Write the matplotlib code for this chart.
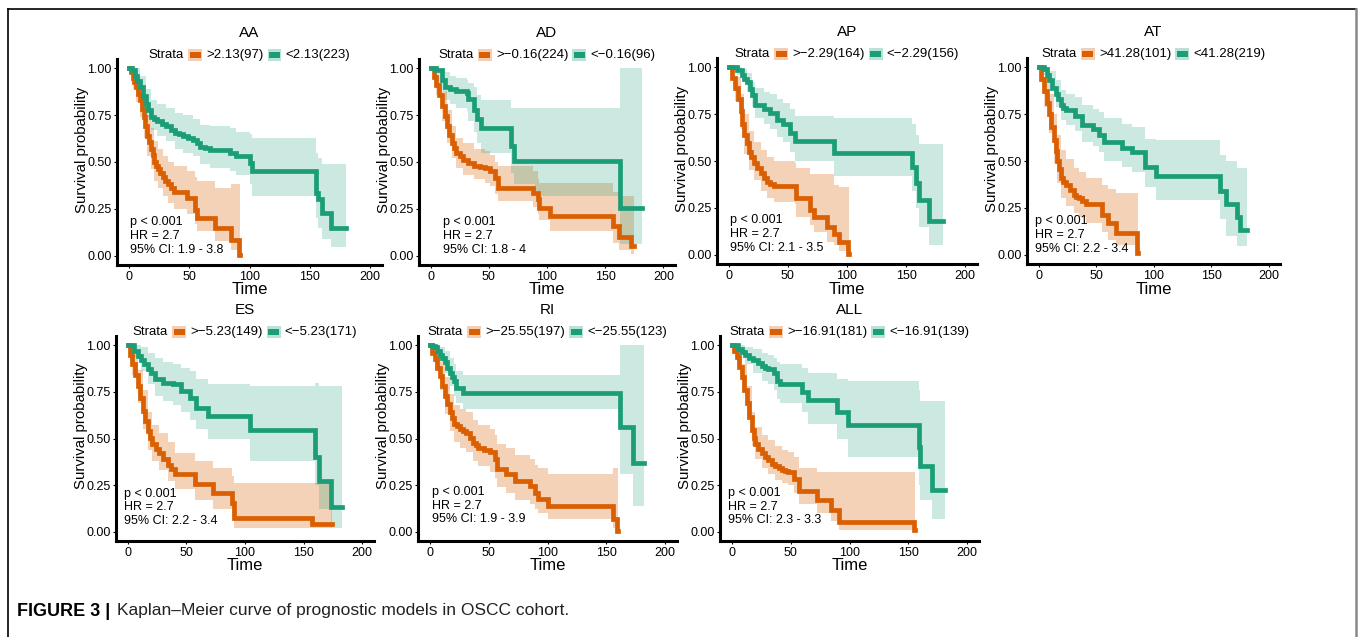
import matplotlib
matplotlib.use('Agg')
import matplotlib.pyplot as plt
from matplotlib.offsetbox import TextArea, DrawingArea, HPacker, AnchoredOffsetbox
from matplotlib.patches import Rectangle
from matplotlib.lines import Line2D

plt.rcParams['font.family'] = ['Liberation Sans', 'DejaVu Sans']

# ---- data ----
titles = ['AA', 'AD', 'AP', 'AT', 'ES', 'RI', 'ALL']
hi_labels = ['>2.13(97)', '>\u22120.16(224)', '>\u22122.29(164)', '>41.28(101)',
             '>\u22125.23(149)', '>\u221225.55(197)', '>\u221216.91(181)']
lo_labels = ['<2.13(223)', '<\u22120.16(96)', '<\u22122.29(156)', '<41.28(219)',
             '<\u22125.23(171)', '<\u221225.55(123)', '<\u221216.91(139)']
ci_text = ['1.9 - 3.8', '1.8 - 4', '2.1 - 3.5', '2.2 - 3.4', '2.2 - 3.4', '1.9 - 3.9', '2.3 - 3.3']
p_text = 'p < 0.001'
hr_text = 'HR = 2.7'

# AA  (curve: *_t/*_s, confidence band: *_bt/*_lo/*_up)
aa_hi_t = [0, 1.5, 3, 4.5, 6, 7.5, 9, 10.5, 12, 13.5, 15, 16.5, 18, 19.5, 21, 22.5, 24, 26, 28, 30, 32, 34.5, 37, 48, 55, 56.5, 71, 85, 91, 92]
aa_hi_s = [1.0, 0.98, 0.95, 0.925, 0.90, 0.865, 0.83, 0.785, 0.74, 0.69, 0.64, 0.605, 0.57, 0.535, 0.50, 0.48, 0.46, 0.44, 0.42, 0.40, 0.38, 0.36, 0.34, 0.31, 0.245, 0.20, 0.148, 0.085, 0.005, 0.005]
aa_hi_bt = [0, 3, 6, 9, 12, 15, 18, 21, 24, 28, 32, 37, 48, 55, 56.5, 71, 85, 91, 92]
aa_hi_lo = [1.0, 0.89, 0.82, 0.74, 0.63, 0.53, 0.46, 0.40, 0.36, 0.32, 0.28, 0.25, 0.22, 0.17, 0.13, 0.08, 0.03, 0.0, 0.0]
aa_hi_up = [1.0, 0.99, 0.96, 0.91, 0.84, 0.75, 0.68, 0.61, 0.57, 0.53, 0.50, 0.48, 0.45, 0.42, 0.40, 0.36, 0.38, 0.38, 0.38]
aa_lo_t = [0, 2.5, 5, 7, 9, 11.5, 14, 16, 18, 20.5, 23, 27, 31, 34.5, 38, 41.5, 45, 49, 53, 56, 59, 63, 67, 84, 89, 100, 102, 155, 157, 160, 168, 180]
aa_lo_s = [1.0, 0.99, 0.96, 0.93, 0.90, 0.855, 0.81, 0.775, 0.74, 0.73, 0.72, 0.705, 0.69, 0.67, 0.655, 0.647, 0.64, 0.63, 0.62, 0.60, 0.58, 0.573, 0.566, 0.548, 0.53, 0.495, 0.45, 0.335, 0.30, 0.23, 0.148, 0.148]
aa_lo_bt = [0, 5, 9, 14, 18, 23, 31, 38, 45, 53, 59, 67, 84, 89, 100, 102, 155, 157, 160, 168, 180]
aa_lo_lo = [1.0, 0.91, 0.84, 0.74, 0.67, 0.64, 0.61, 0.57, 0.55, 0.53, 0.49, 0.47, 0.45, 0.43, 0.38, 0.32, 0.20, 0.15, 0.09, 0.045, 0.045]
aa_lo_up = [1.0, 1.0, 0.96, 0.89, 0.83, 0.81, 0.79, 0.76, 0.75, 0.73, 0.70, 0.69, 0.68, 0.66, 0.65, 0.63, 0.55, 0.52, 0.49, 0.49, 0.49]

# AD
ad_hi_t = [0, 2.5, 5, 7, 9.5, 12, 14, 16, 18, 20, 22, 25, 28, 32, 37, 42, 47, 51, 55, 58, 88, 92, 93, 103, 157, 162, 172, 175]
ad_hi_s = [1.0, 0.955, 0.91, 0.86, 0.80, 0.745, 0.69, 0.645, 0.60, 0.575, 0.55, 0.53, 0.51, 0.495, 0.48, 0.475, 0.47, 0.45, 0.416, 0.36, 0.336, 0.30, 0.255, 0.21, 0.157, 0.10, 0.05, 0.05]
ad_hi_bt = [0, 5, 9.5, 14, 18, 22, 28, 37, 47, 51, 55, 58, 88, 92, 93, 103, 157, 162, 172, 175]
ad_hi_lo = [1.0, 0.86, 0.72, 0.60, 0.52, 0.47, 0.43, 0.41, 0.39, 0.37, 0.33, 0.29, 0.26, 0.22, 0.19, 0.13, 0.07, 0.03, 0.01, 0.01]
ad_hi_up = [1.0, 0.96, 0.88, 0.78, 0.69, 0.63, 0.60, 0.57, 0.56, 0.54, 0.50, 0.48, 0.45, 0.41, 0.39, 0.39, 0.34, 0.32, 0.32, 0.32]
ad_lo_t = [0, 5, 9.5, 12, 17, 22, 31, 32, 37, 40, 43, 68, 69, 72, 90, 163, 182]
ad_lo_s = [1.0, 0.99, 0.94, 0.90, 0.89, 0.88, 0.87, 0.835, 0.78, 0.73, 0.684, 0.684, 0.586, 0.505, 0.505, 0.255, 0.255]
ad_lo_bt = [0, 5, 9.5, 12, 17, 22, 31, 32, 37, 40, 43, 68, 69, 72, 90, 163, 182]
ad_lo_lo = [1.0, 0.96, 0.88, 0.83, 0.81, 0.79, 0.77, 0.72, 0.66, 0.60, 0.55, 0.55, 0.44, 0.38, 0.32, 0.06, 0.06]
ad_lo_up = [1.0, 1.0, 1.0, 0.98, 0.96, 0.95, 0.94, 0.92, 0.90, 0.86, 0.83, 0.83, 0.79, 0.79, 0.79, 1.0, 1.0]

# AP
ap_hi_t = [0, 2.8, 5.6, 7.8, 10, 11.4, 12.7, 15, 17, 19, 21, 24, 27, 29.5, 32, 35, 38, 56, 57, 69, 72, 83, 89, 93, 101, 102]
ap_hi_s = [1.0, 0.945, 0.89, 0.83, 0.765, 0.70, 0.64, 0.595, 0.55, 0.52, 0.49, 0.46, 0.435, 0.41, 0.39, 0.375, 0.365, 0.365, 0.30, 0.24, 0.20, 0.145, 0.11, 0.065, 0.005, 0.005]
ap_hi_bt = [0, 5.6, 10, 12.7, 17, 21, 27, 32, 38, 56, 57, 69, 72, 83, 89, 93, 101, 102]
ap_hi_lo = [1.0, 0.82, 0.67, 0.54, 0.45, 0.40, 0.34, 0.30, 0.28, 0.27, 0.20, 0.16, 0.12, 0.07, 0.05, 0.02, 0.0, 0.0]
ap_hi_up = [1.0, 0.95, 0.86, 0.75, 0.66, 0.60, 0.56, 0.52, 0.50, 0.49, 0.46, 0.43, 0.43, 0.43, 0.37, 0.36, 0.36, 0.36]
ap_lo_t = [0, 7, 11, 13, 15.5, 18, 20, 22.5, 30, 35, 41, 46, 52, 56, 89, 155, 158, 160.5, 169, 181]
ap_lo_s = [1.0, 0.985, 0.96, 0.94, 0.92, 0.885, 0.85, 0.80, 0.78, 0.755, 0.72, 0.70, 0.65, 0.605, 0.543, 0.47, 0.385, 0.29, 0.18, 0.18]
ap_lo_bt = [0, 7, 11, 15.5, 20, 22.5, 30, 35, 41, 46, 52, 56, 89, 155, 158, 160.5, 169, 181]
ap_lo_lo = [1.0, 0.96, 0.93, 0.87, 0.79, 0.73, 0.70, 0.67, 0.63, 0.60, 0.55, 0.50, 0.42, 0.34, 0.25, 0.15, 0.05, 0.05]
ap_lo_up = [1.0, 1.0, 0.99, 0.97, 0.92, 0.89, 0.87, 0.86, 0.83, 0.81, 0.78, 0.74, 0.73, 0.70, 0.64, 0.59, 0.59, 0.59]

# AT
at_hi_t = [0, 2.5, 5, 7, 9, 11.3, 13.6, 15, 16.5, 18, 19.4, 21.7, 24, 27.5, 31, 33, 35, 38, 41, 55.5, 60, 67, 86, 86.5]
at_hi_s = [1.0, 0.94, 0.875, 0.81, 0.75, 0.68, 0.61, 0.555, 0.50, 0.455, 0.41, 0.39, 0.37, 0.345, 0.32, 0.31, 0.30, 0.285, 0.27, 0.21, 0.17, 0.116, 0.01, 0.01]
at_hi_bt = [0, 5, 9, 13.6, 16.5, 19.4, 24, 31, 35, 41, 55.5, 60, 67, 86, 86.5]
at_hi_lo = [1.0, 0.79, 0.65, 0.49, 0.38, 0.30, 0.26, 0.22, 0.20, 0.17, 0.12, 0.08, 0.05, 0.0, 0.0]
at_hi_up = [1.0, 0.95, 0.86, 0.75, 0.64, 0.56, 0.51, 0.46, 0.44, 0.41, 0.37, 0.35, 0.33, 0.33, 0.33]
at_lo_t = [0, 5, 7, 9, 12, 15, 17, 19.4, 21.7, 24, 32, 38, 47, 52.6, 57, 73, 81.5, 93, 102, 158, 163, 173, 175, 181]
at_lo_s = [1.0, 0.99, 0.96, 0.93, 0.89, 0.857, 0.83, 0.80, 0.785, 0.77, 0.74, 0.69, 0.67, 0.64, 0.60, 0.57, 0.55, 0.47, 0.42, 0.34, 0.27, 0.20, 0.134, 0.134]
at_lo_bt = [0, 5, 9, 15, 19.4, 24, 32, 38, 47, 52.6, 57, 73, 81.5, 93, 102, 158, 163, 173, 175, 181]
at_lo_lo = [1.0, 0.96, 0.88, 0.79, 0.72, 0.69, 0.66, 0.60, 0.58, 0.55, 0.50, 0.47, 0.44, 0.36, 0.29, 0.19, 0.10, 0.045, 0.045, 0.045]
at_lo_up = [1.0, 1.0, 0.98, 0.93, 0.88, 0.86, 0.84, 0.80, 0.78, 0.76, 0.73, 0.70, 0.68, 0.62, 0.61, 0.53, 0.50, 0.46, 0.46, 0.46]

# ES
es_hi_t = [0, 2, 4, 6.3, 8.6, 10.8, 13, 15, 17, 19, 21, 24, 27, 30.5, 34, 37, 40, 57, 73, 88.6, 91, 157, 174]
es_hi_s = [1.0, 0.95, 0.90, 0.84, 0.78, 0.715, 0.65, 0.595, 0.54, 0.505, 0.47, 0.445, 0.42, 0.39, 0.36, 0.335, 0.31, 0.255, 0.21, 0.156, 0.075, 0.04, 0.04]
es_hi_bt = [0, 4, 8.6, 13, 17, 21, 27, 34, 40, 57, 73, 88.6, 91, 157, 174]
es_hi_lo = [1.0, 0.84, 0.69, 0.55, 0.44, 0.38, 0.33, 0.27, 0.23, 0.17, 0.12, 0.08, 0.02, 0.02, 0.02]
es_hi_up = [1.0, 0.95, 0.87, 0.76, 0.64, 0.57, 0.53, 0.48, 0.42, 0.38, 0.34, 0.30, 0.26, 0.26, 0.26]
es_lo_t = [0, 5.7, 8.5, 11.4, 14, 17, 20, 23, 30, 38.6, 45.7, 52.9, 58.6, 68.6, 104, 160, 163, 173, 183]
es_lo_s = [1.0, 0.97, 0.945, 0.92, 0.90, 0.875, 0.85, 0.82, 0.80, 0.79, 0.755, 0.72, 0.665, 0.62, 0.545, 0.40, 0.27, 0.13, 0.13]
es_lo_bt = [0, 5.7, 11.4, 17, 23, 30, 38.6, 45.7, 52.9, 58.6, 68.6, 104, 160, 163, 173, 183]
es_lo_lo = [1.0, 0.94, 0.86, 0.79, 0.73, 0.70, 0.68, 0.64, 0.60, 0.55, 0.50, 0.38, 0.25, 0.12, 0.02, 0.02]
es_lo_up = [1.0, 1.0, 0.99, 0.96, 0.93, 0.91, 0.90, 0.88, 0.86, 0.82, 0.79, 0.78, 0.80, 0.78, 0.78, 0.78]

# RI
ri_hi_t = [0, 2, 4.3, 6.4, 8.5, 10.6, 12.8, 15, 17, 19, 21, 23, 25.5, 28, 31, 34, 37, 39, 41, 46, 51, 55, 57, 65, 72, 85, 89, 92, 100.7, 156, 159, 160]
ri_hi_s = [1.0, 0.96, 0.925, 0.88, 0.835, 0.78, 0.73, 0.685, 0.64, 0.61, 0.577, 0.565, 0.55, 0.54, 0.53, 0.505, 0.477, 0.465, 0.45, 0.44, 0.425, 0.39, 0.335, 0.31, 0.27, 0.246, 0.21, 0.175, 0.14, 0.068, 0.005, 0.005]
ri_hi_bt = [0, 4.3, 8.5, 12.8, 17, 21, 25.5, 31, 37, 41, 51, 55, 57, 65, 72, 85, 89, 92, 100.7, 156, 159, 160]
ri_hi_lo = [1.0, 0.88, 0.76, 0.63, 0.54, 0.48, 0.45, 0.43, 0.38, 0.35, 0.32, 0.29, 0.24, 0.21, 0.17, 0.15, 0.12, 0.10, 0.07, 0.02, 0.0, 0.0]
ri_hi_up = [1.0, 0.97, 0.91, 0.83, 0.74, 0.68, 0.66, 0.64, 0.60, 0.57, 0.55, 0.52, 0.47, 0.45, 0.41, 0.39, 0.36, 0.34, 0.31, 0.34, 0.34, 0.34]
ri_lo_t = [0, 2, 4.3, 6.4, 8.5, 10.6, 12.8, 15, 17, 19, 21, 22.7, 28, 161.7, 173, 182]
ri_lo_s = [1.0, 0.995, 0.99, 0.97, 0.95, 0.93, 0.91, 0.88, 0.85, 0.83, 0.81, 0.77, 0.746, 0.56, 0.37, 0.37]
ri_lo_bt = [0, 4.3, 8.5, 12.8, 17, 21, 22.7, 28, 161.7, 173, 182]
ri_lo_lo = [1.0, 0.96, 0.91, 0.85, 0.78, 0.73, 0.69, 0.66, 0.31, 0.14, 0.14]
ri_lo_up = [1.0, 1.0, 0.99, 0.97, 0.93, 0.90, 0.86, 0.84, 1.0, 1.0, 1.0]

# ALL
all_hi_t = [0, 2, 4.3, 6.4, 8.5, 10.6, 12.8, 15, 17, 18.5, 19.9, 22.5, 25.5, 28, 31, 34, 37, 40, 42.6, 45, 48, 52.5, 56.7, 72, 84, 90.8, 154.6, 155.5]
all_hi_s = [1.0, 0.97, 0.94, 0.885, 0.83, 0.76, 0.69, 0.615, 0.545, 0.505, 0.47, 0.445, 0.42, 0.40, 0.385, 0.365, 0.35, 0.34, 0.33, 0.325, 0.32, 0.285, 0.22, 0.17, 0.116, 0.054, 0.01, 0.01]
all_hi_bt = [0, 4.3, 8.5, 12.8, 17, 19.9, 25.5, 31, 37, 42.6, 48, 52.5, 56.7, 72, 84, 90.8, 154.6, 155.5]
all_hi_lo = [1.0, 0.90, 0.76, 0.61, 0.46, 0.39, 0.34, 0.31, 0.28, 0.26, 0.25, 0.21, 0.15, 0.10, 0.06, 0.01, 0.0, 0.0]
all_hi_up = [1.0, 0.98, 0.90, 0.78, 0.64, 0.56, 0.52, 0.49, 0.46, 0.44, 0.43, 0.40, 0.34, 0.32, 0.32, 0.32, 0.32, 0.32]
all_lo_t = [0, 5.7, 8.5, 11.3, 15, 18.4, 22, 25.5, 28, 31, 35.5, 38, 41, 59.6, 65, 89, 99, 159, 160, 170, 181]
all_lo_s = [1.0, 0.98, 0.965, 0.946, 0.93, 0.92, 0.905, 0.89, 0.88, 0.875, 0.85, 0.81, 0.795, 0.75, 0.705, 0.64, 0.57, 0.455, 0.35, 0.223, 0.223]
all_lo_bt = [0, 5.7, 11.3, 18.4, 25.5, 31, 35.5, 38, 41, 59.6, 65, 89, 99, 159, 160, 170, 181]
all_lo_lo = [1.0, 0.95, 0.90, 0.85, 0.81, 0.79, 0.76, 0.71, 0.69, 0.64, 0.58, 0.50, 0.40, 0.25, 0.17, 0.07, 0.07]
all_lo_up = [1.0, 1.0, 0.99, 0.98, 0.96, 0.95, 0.93, 0.91, 0.90, 0.88, 0.85, 0.82, 0.81, 0.76, 0.70, 0.70, 0.70]

groups = [
    ((aa_hi_t, aa_hi_s, aa_hi_bt, aa_hi_lo, aa_hi_up), (aa_lo_t, aa_lo_s, aa_lo_bt, aa_lo_lo, aa_lo_up)),
    ((ad_hi_t, ad_hi_s, ad_hi_bt, ad_hi_lo, ad_hi_up), (ad_lo_t, ad_lo_s, ad_lo_bt, ad_lo_lo, ad_lo_up)),
    ((ap_hi_t, ap_hi_s, ap_hi_bt, ap_hi_lo, ap_hi_up), (ap_lo_t, ap_lo_s, ap_lo_bt, ap_lo_lo, ap_lo_up)),
    ((at_hi_t, at_hi_s, at_hi_bt, at_hi_lo, at_hi_up), (at_lo_t, at_lo_s, at_lo_bt, at_lo_lo, at_lo_up)),
    ((es_hi_t, es_hi_s, es_hi_bt, es_hi_lo, es_hi_up), (es_lo_t, es_lo_s, es_lo_bt, es_lo_lo, es_lo_up)),
    ((ri_hi_t, ri_hi_s, ri_hi_bt, ri_hi_lo, ri_hi_up), (ri_lo_t, ri_lo_s, ri_lo_bt, ri_lo_lo, ri_lo_up)),
    ((all_hi_t, all_hi_s, all_hi_bt, all_hi_lo, all_hi_up), (all_lo_t, all_lo_s, all_lo_bt, all_lo_lo, all_lo_up)),
]

# ---- layout (pixels: left, right, top, bottom) ----
W, H = 1358, 637
boxes = [(117, 382, 59, 265), (419, 675, 59, 265), (717, 977, 58, 264), (1027, 1280, 58, 264),
         (116, 374, 336, 541), (418, 677, 336, 541), (720, 979, 336, 541)]
ann_x = [0.5, 11, 1, -3, -3, 2, -3]
ann_y = [0.105, 0.105, 0.11, 0.105, 0.13, 0.14, 0.135]

ORANGE = '#D95F02'
GREEN = '#1B9E77'

fig = plt.figure(figsize=(W / 100, H / 100), dpi=100)


def key(color):
    da = DrawingArea(10, 8, 0, 0)
    da.add_artist(Rectangle((0, 0), 10, 8, fc=color, alpha=0.3, lw=0))
    da.add_artist(Rectangle((1, 1.5), 8, 5, fc=color, lw=0))
    return da


for i, (l, r, t, b) in enumerate(boxes):
    ax = fig.add_axes([l / W, 1 - b / H, (r - l) / W, (b - t) / H])
    hi, lo = groups[i]
    ax.fill_between(hi[2], hi[3], hi[4], step='post', color=ORANGE, alpha=0.28, lw=0)
    ax.fill_between(lo[2], lo[3], lo[4], step='post', color=GREEN, alpha=0.22, lw=0)
    ax.step(hi[0], hi[1], where='post', color=ORANGE, lw=3.4, solid_joinstyle='miter')
    ax.step(lo[0], lo[1], where='post', color=GREEN, lw=3.4, solid_joinstyle='miter')

    ax.set_xlim(-10, 210)
    ax.set_ylim(-0.05, 1.05)
    ax.set_xticks([0, 50, 100, 150, 200])
    ax.set_yticks([0, 0.25, 0.5, 0.75, 1.0])
    ax.set_yticklabels(['0.00', '0.25', '0.50', '0.75', '1.00'])
    ax.tick_params(labelsize=9, length=2.5, width=0.8, pad=1.5, colors='black')
    for s in ['top', 'right']:
        ax.spines[s].set_visible(False)
    for s in ['left', 'bottom']:
        ax.spines[s].set_linewidth(2.2)

    hpx = b - t
    wpx = r - l
    ax.text(0.5, 1 + 26 / hpx, titles[i], transform=ax.transAxes, ha='center', va='center', fontsize=11)
    ax.text(0.5, -25 / hpx, 'Time', transform=ax.transAxes, ha='center', va='center', fontsize=12)
    ax.text(-35 / wpx, 0.56, 'Survival probability', transform=ax.transAxes, rotation=90,
            ha='center', va='center', fontsize=10.8)
    ax.text(ann_x[i], ann_y[i], p_text + '\n' + hr_text + '\n95% CI: ' + ci_text[i],
            ha='left', va='center', fontsize=9, linespacing=1.2)

    tp = dict(fontsize=9.5)
    row = HPacker(children=[TextArea('Strata', textprops=tp), key(ORANGE), TextArea(hi_labels[i], textprops=tp),
                            key(GREEN), TextArea(lo_labels[i], textprops=tp)],
                  sep=3, align='center', pad=0)
    ab = AnchoredOffsetbox(loc='center', child=row, bbox_to_anchor=(0.5, 1 + 4 / hpx),
                           bbox_transform=ax.transAxes, frameon=False, pad=0, borderpad=0)
    ax.add_artist(ab)

# caption
cap = HPacker(children=[TextArea('FIGURE 3 |', textprops=dict(fontsize=13, weight='bold')),
                        TextArea('Kaplan\u2013Meier curve of prognostic models in OSCC cohort.',
                                 textprops=dict(fontsize=12.5, color='#222222'))],
              sep=5, align='baseline', pad=0)
fig.add_artist(AnchoredOffsetbox(loc='center left', child=cap, bbox_to_anchor=(17 / W, 1 - 611 / H),
                                 bbox_transform=fig.transFigure, frameon=False, pad=0, borderpad=0))

# frame
fig.add_artist(Line2D([8 / W, 1356 / W], [1 - 9 / H, 1 - 9 / H], color='black', lw=1.2, transform=fig.transFigure))
fig.add_artist(Line2D([8 / W, 8 / W], [1 - 9 / H, 0], color='black', lw=1.2, transform=fig.transFigure))
fig.add_artist(Line2D([1356 / W, 1356 / W], [1 - 9 / H, 0], color='#888888', lw=1.8, transform=fig.transFigure))

fig.savefig('out.png', dpi=100)
